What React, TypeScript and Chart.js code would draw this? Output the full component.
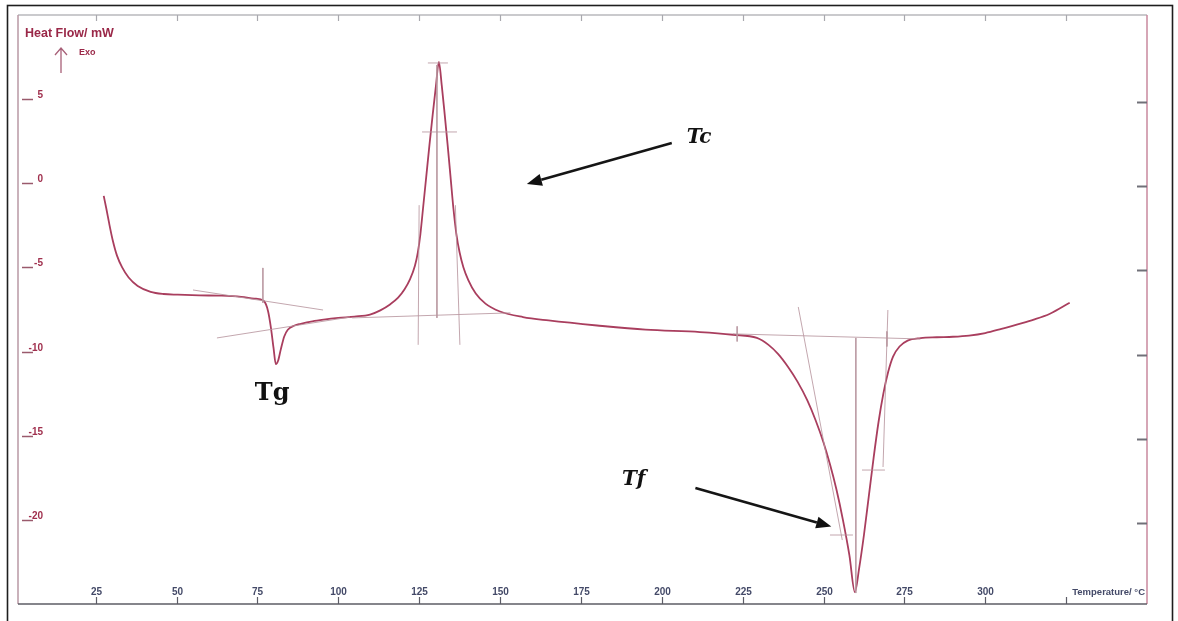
import React, { useEffect, useRef } from "react";
import { Chart, registerables } from "chart.js";
Chart.register(...registerables);

// DSC curve: temperature (°C) and heat flow (mW)
const temperature = [
  27.5, 28.3, 29.2, 30.3, 31.6, 33.2, 35.2, 38, 42, 46, 50.4, 57, 64, 70, 74, 77,
  78.3, 79.2, 80, 80.7, 81.4, 82.2, 83.3, 84.4, 86.5, 88.4, 92, 95.5, 100, 105, 109.8,
  113, 116, 118.5, 120.5, 122.2, 123.7, 124.6, 125.4, 126.2, 127.2, 128.2, 129.2, 130.2,
  131.1, 132.0, 132.9, 133.8, 134.7, 135.6, 136.5, 137.5, 138.7, 140.2, 142.5, 145.5,
  150, 157.1, 165, 180, 195, 211.8, 222, 229.4, 233, 236, 239, 242, 245, 247.5, 250,
  252, 254, 256, 258, 259.7, 261, 262.5, 264, 265.5, 267, 268.5, 270, 271.5, 273.5,
  276, 280, 285, 290, 295, 300, 305, 310, 315, 320, 326.1,
];
const heatFlow = [
  -0.75, -1.5, -2.4, -3.4, -4.3, -5.0, -5.6, -6.1, -6.45, -6.58, -6.62, -6.66, -6.68,
  -6.75, -6.85, -7.0, -7.6, -8.6, -9.8, -10.75, -10.55, -9.9, -9.1, -8.7, -8.45, -8.35,
  -8.2, -8.1, -8.0, -7.92, -7.8, -7.55, -7.2, -6.8, -6.3, -5.7, -4.9, -4.1, -3.0, -1.5,
  0.4, 2.3, 4.1, 5.8, 7.21, 5.8, 4.1, 2.3, 0.4, -1.5, -3.0, -4.1, -5.0, -5.75, -6.55,
  -7.15, -7.62, -7.95, -8.15, -8.45, -8.7, -8.84, -9.0, -9.19, -9.6, -10.15, -10.9,
  -11.8, -12.9, -14.05, -15.4, -16.7, -18.2, -20.0, -22.1, -24.3, -22.9, -20.9, -18.6,
  -16.3, -14.2, -12.5, -11.2, -10.3, -9.7, -9.35, -9.2, -9.15, -9.12, -9.05, -8.9,
  -8.65, -8.38, -8.1, -7.75, -7.1,
];

// Construction (tangent / baseline) segments: [[x1, y1], [x2, y2]]
const tgLines = [
  [[55.1, -6.34], [95.3, -7.53]],
  [[62.5, -9.19], [103.6, -7.95]],
  [[76.7, -5.03], [76.7, -7.11]],
];
const tcLines = [
  [[104.3, -8.0], [153.2, -7.7]],
  [[125.0, -1.3], [124.7, -9.6]],
  [[136.2, -1.3], [137.6, -9.6]],
  [[130.5, 7.03], [130.5, -8.0]],
  [[125.9, 3.05], [136.7, 3.05]],
  [[127.7, 7.15], [133.9, 7.15]],
];
const tfLines = [
  [[222, -8.95], [280, -9.25]],
  [[223.3, -8.5], [223.3, -9.4]],
  [[269.6, -8.8], [269.6, -9.7]],
  [[242.2, -7.35], [255.8, -21.2]],
  [[269.9, -7.53], [268.4, -16.86]],
  [[260.0, -9.19], [260.0, -24.35]],
  [[261.9, -17.04], [269.0, -17.04]],
  [[252.0, -20.9], [259.1, -20.9]],
];

const xTicks = [25, 50, 75, 100, 125, 150, 175, 200, 225, 250, 275, 300, 325];
const xTickLabels = ["25", "50", "75", "100", "125", "150", "175", "200", "225", "250", "275", "300", ""];
const yTicks = [5, 0, -5, -10, -15, -20];
const yTickLabels = ["5", "0", "-5", "-10", "-15", "-20"];

// Annotations: label text, position (data units)
const labelTexts = ["Tc", "Tg", "Tf"];
const labelPos = [[207.7, 2.4], [74.2, -12.9], [187.7, -17.9]];
const arrowFrom = [[203.1, 2.4], [210.4, -18.1]];
const arrowTo = [[158.3, -0.04], [252.4, -20.4]];

export default function App() {
  const ref = useRef<HTMLCanvasElement | null>(null);
  useEffect(() => {
    if (!ref.current) return;
    const seg = (s: number[][]) => ({
      data: s.map((p) => ({ x: p[0], y: p[1] })),
      borderColor: "rgba(185,150,160,0.85)",
      borderWidth: 1,
      pointRadius: 0,
      tension: 0,
    });
    const decor = {
      id: "decor",
      afterDraw(chart: any) {
        const { ctx, chartArea, scales } = chart;
        const { left, right, top, bottom } = chartArea;
        const x = scales.x, y = scales.y;
        ctx.save();
        // outer frame
        ctx.strokeStyle = "#1e1e1e";
        ctx.lineWidth = 1.6;
        ctx.strokeRect(7.5, 5.5, 1165, 640);
        // plot frame
        ctx.lineWidth = 1.5;
        ctx.strokeStyle = "#b9b9bd";
        ctx.beginPath(); ctx.moveTo(left, top); ctx.lineTo(right, top); ctx.stroke();
        ctx.strokeStyle = "#b898a4";
        ctx.beginPath(); ctx.moveTo(left, top); ctx.lineTo(left, bottom); ctx.stroke();
        ctx.strokeStyle = "#c8899e";
        ctx.beginPath(); ctx.moveTo(right, top); ctx.lineTo(right, bottom); ctx.stroke();
        ctx.strokeStyle = "#5c5c64";
        ctx.beginPath(); ctx.moveTo(left, bottom); ctx.lineTo(right, bottom); ctx.stroke();
        // x ticks and labels
        ctx.font = "bold 10px 'Liberation Sans', Arial, sans-serif";
        ctx.textAlign = "center";
        ctx.textBaseline = "alphabetic";
        xTicks.forEach((t, i) => {
          const px = Math.round(x.getPixelForValue(t)) + 0.5;
          ctx.strokeStyle = "#5c5c66";
          ctx.lineWidth = 1.2;
          ctx.beginPath(); ctx.moveTo(px, bottom); ctx.lineTo(px, bottom - 7); ctx.stroke();
          ctx.strokeStyle = "#a8a8ae";
          ctx.beginPath(); ctx.moveTo(px, top); ctx.lineTo(px, top + 6); ctx.stroke();
          ctx.fillStyle = "#444a68";
          if (xTickLabels[i]) ctx.fillText(xTickLabels[i], px, bottom - 9);
        });
        ctx.textAlign = "right";
        ctx.font = "bold 9.5px 'Liberation Sans', Arial, sans-serif";
        ctx.fillText("Temperature/ \u00b0C", right - 2, bottom - 9);
        // y ticks and labels
        ctx.font = "bold 10px 'Liberation Sans', Arial, sans-serif";
        yTicks.forEach((v, i) => {
          const py = Math.round(y.getPixelForValue(v)) + 0.5;
          ctx.strokeStyle = "#9a5a6c";
          ctx.lineWidth = 1.5;
          ctx.beginPath(); ctx.moveTo(left + 4, py); ctx.lineTo(left + 15, py); ctx.stroke();
          ctx.strokeStyle = "#707078";
          ctx.lineWidth = 2;
          ctx.beginPath(); ctx.moveTo(right - 10, py + 3); ctx.lineTo(right, py + 3); ctx.stroke();
          ctx.fillStyle = "#a0304e";
          ctx.textAlign = "right";
          ctx.fillText(yTickLabels[i], left + 25, py - 2);
        });
        // axis title
        ctx.textAlign = "left";
        ctx.fillStyle = "#9a2848";
        ctx.font = "bold 12.5px 'Liberation Sans', Arial, sans-serif";
        ctx.fillText("Heat Flow/ mW", left + 7, top + 22);
        ctx.font = "bold 9px 'Liberation Sans', Arial, sans-serif";
        ctx.fillText("Exo", left + 61, top + 40);
        ctx.strokeStyle = "#a86078";
        ctx.lineWidth = 1.3;
        ctx.beginPath();
        ctx.moveTo(left + 43, top + 58); ctx.lineTo(left + 43, top + 33);
        ctx.moveTo(left + 37, top + 40); ctx.lineTo(left + 43, top + 33); ctx.lineTo(left + 49, top + 40);
        ctx.stroke();
        // annotation labels
        ctx.fillStyle = "#111";
        labelTexts.forEach((txt, i) => {
          const px = x.getPixelForValue(labelPos[i][0]);
          const py = y.getPixelForValue(labelPos[i][1]);
          ctx.font = txt === "Tg"
            ? "bold 24px 'DejaVu Serif', serif"
            : "italic bold 20px 'DejaVu Serif', serif";
          ctx.textAlign = "left";
          ctx.fillText(txt, px, py);
        });
        // arrows
        arrowFrom.forEach((f, i) => {
          const x1 = x.getPixelForValue(f[0]), y1 = y.getPixelForValue(f[1]);
          const x2 = x.getPixelForValue(arrowTo[i][0]), y2 = y.getPixelForValue(arrowTo[i][1]);
          const ang = Math.atan2(y2 - y1, x2 - x1);
          const hl = 15, hw = 6;
          const bx = x2 - hl * Math.cos(ang), by = y2 - hl * Math.sin(ang);
          ctx.strokeStyle = "#151515";
          ctx.lineWidth = 2.6;
          ctx.beginPath(); ctx.moveTo(x1, y1); ctx.lineTo(bx, by); ctx.stroke();
          ctx.fillStyle = "#101010";
          ctx.beginPath();
          ctx.moveTo(x2, y2);
          ctx.lineTo(bx + hw * Math.sin(ang), by - hw * Math.cos(ang));
          ctx.lineTo(bx - hw * Math.sin(ang), by + hw * Math.cos(ang));
          ctx.closePath();
          ctx.fill();
        });
        ctx.restore();
      },
    };
    const chart = new Chart(ref.current, {
      type: "line",
      data: {
        datasets: [
          ...[...tgLines, ...tcLines, ...tfLines].map(seg),
          {
            data: temperature.map((t, i) => ({ x: t, y: heatFlow[i] })),
            borderColor: "#a93e5e",
            borderWidth: 1.8,
            pointRadius: 0,
            cubicInterpolationMode: "monotone",
          } as any,
        ],
      },
      options: {
        animation: false,
        responsive: false,
        layout: { padding: { left: 18, top: 15, right: 31, bottom: 17 } },
        plugins: { legend: { display: false }, tooltip: { enabled: false } },
        scales: {
          x: { type: "linear", min: 1, max: 350, display: false },
          y: { type: "linear", min: -25, max: 10, display: false },
        },
      },
      plugins: [decor],
    });
    return () => chart.destroy();
  }, []);
  return (
    <div style={{ position: "fixed", left: 0, top: 0, width: 1178, height: 621, background: "#fff" }}>
      <canvas ref={ref} width={1178} height={621} style={{ width: 1178, height: 621, display: "block" }} />
    </div>
  );
}
